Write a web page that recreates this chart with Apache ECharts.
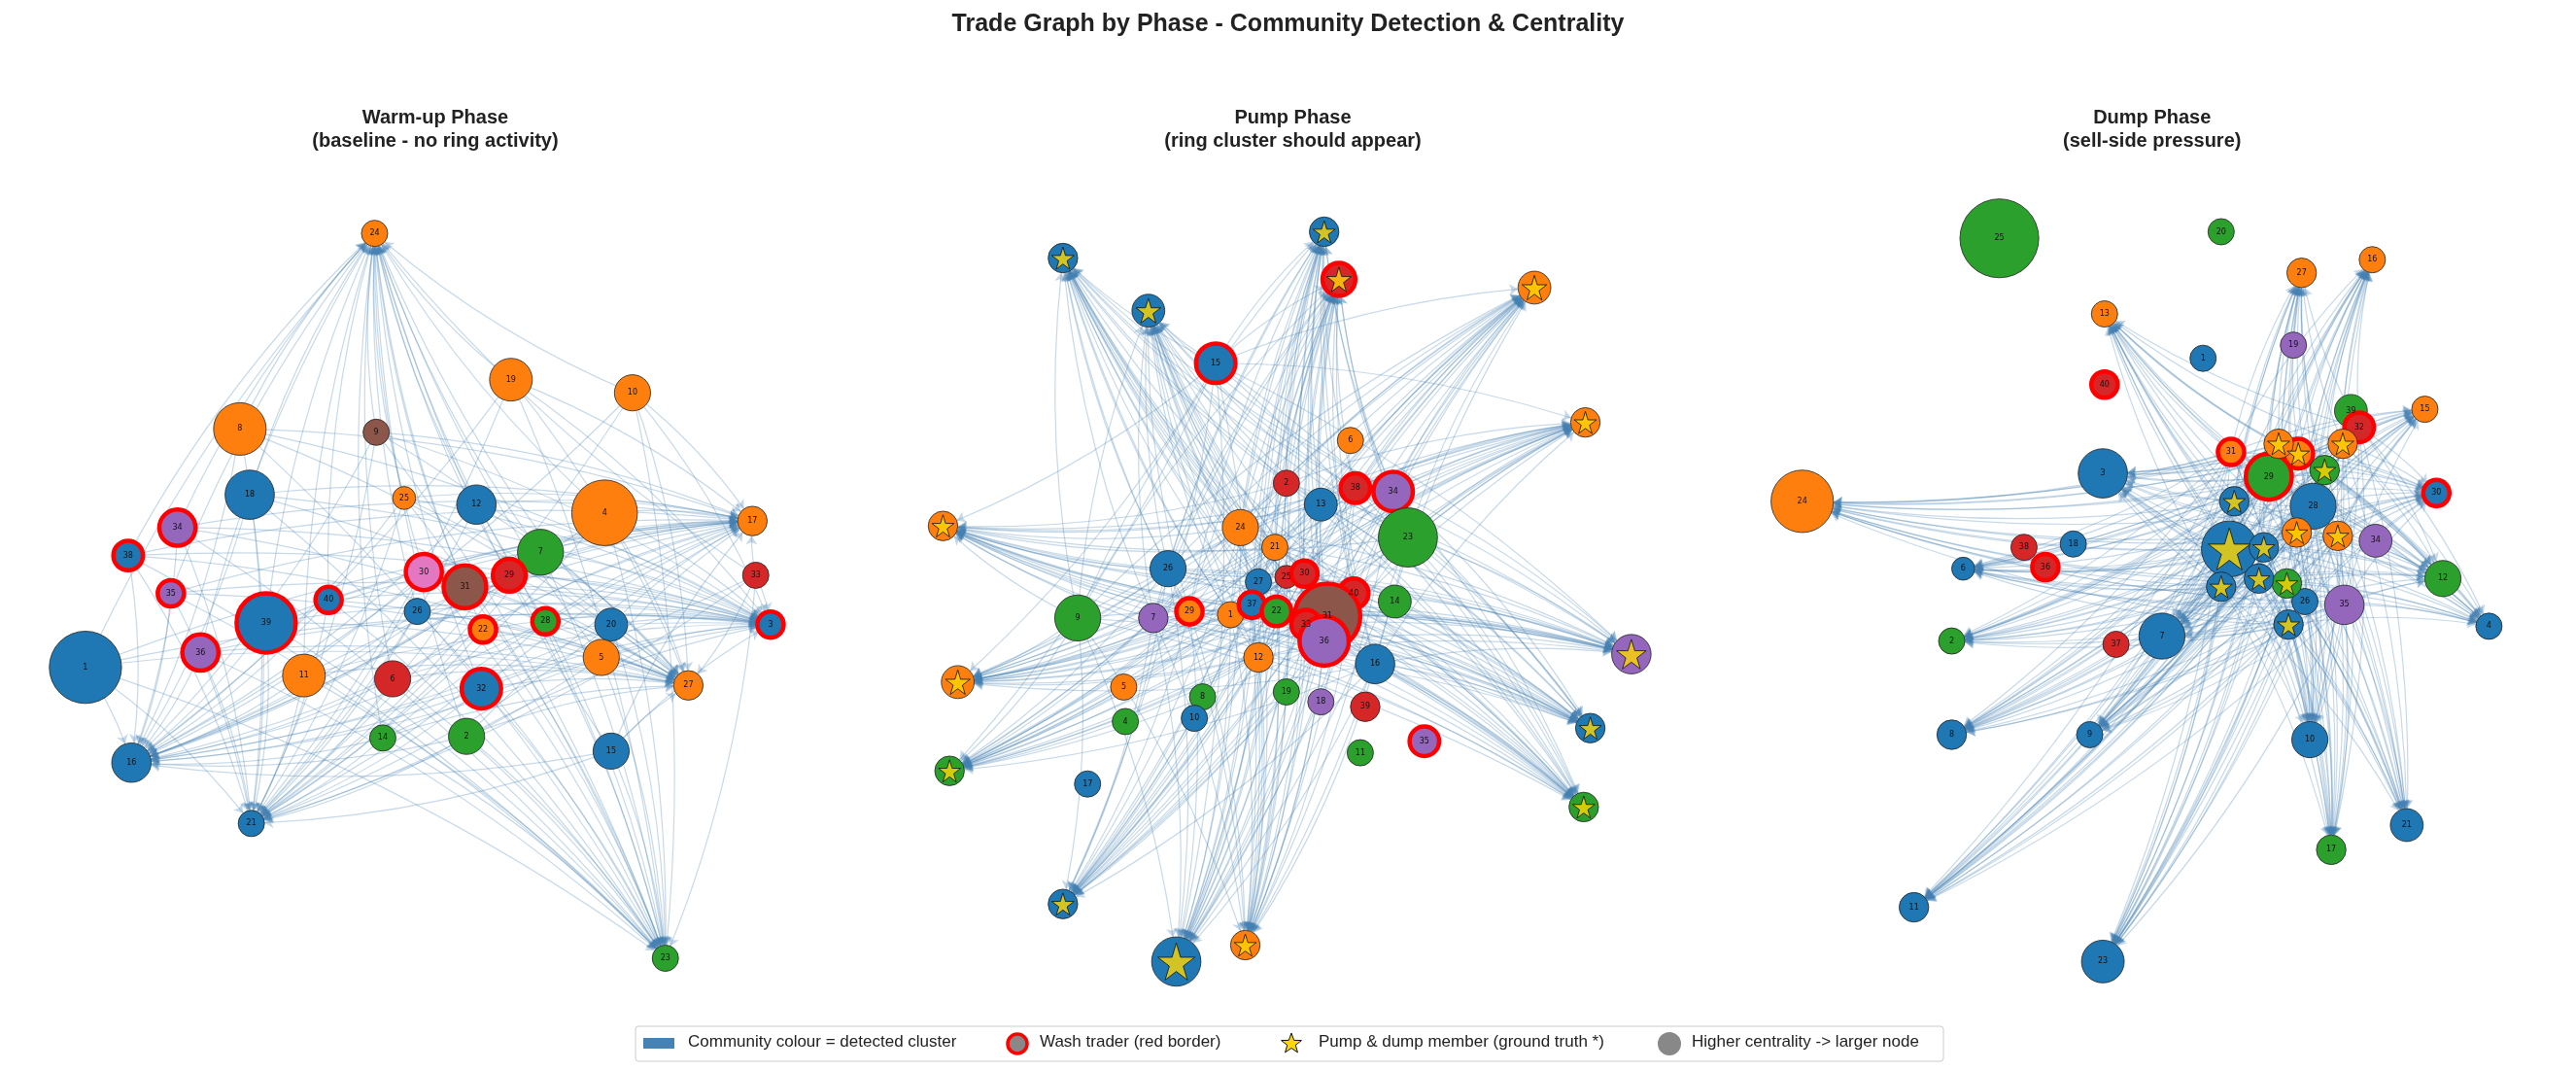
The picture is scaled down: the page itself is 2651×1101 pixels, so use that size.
<!DOCTYPE html>
<html><head><meta charset="utf-8">
<script src="https://cdn.jsdelivr.net/npm/echarts@6/dist/echarts.min.js"></script>
<style>html,body{margin:0;background:#fff}#c{width:2651px;height:1101px}</style>
</head><body><div id="c"></div>
<script>
// community palette
const palette = ['#1f77b4', '#ff7f0e', '#2ca02c', '#d62728', '#9467bd', '#8c564b', '#e377c2'];
// node tables: [label, x, y, centrality, community, wash, star]
const warmNodes = [
  ['1',52,406,22,0,0,0],['24',228,142,8,1,0,0],['8',146,261,16,1,0,0],['9',229,263,8,5,0,0],
  ['19',311,231,13,1,0,0],['10',385,239,11,1,0,0],['18',152,301,15,0,0,0],['25',246,303,7,1,0,0],
  ['12',290,307,12,0,0,0],['4',368,312,20,1,0,0],['7',329,336,14,2,0,0],['17',458,317,9,1,0,0],
  ['34',108,321,11,4,1,0],['38',78,338,9,0,1,0],['35',104,361,8,4,1,0],['39',162,379,18,0,1,0],
  ['30',258,348,11,6,1,0],['31',283,357,13,5,1,0],['29',310,350,10,3,1,0],['40',200,365,8,0,1,0],
  ['26',254,372,8,0,0,0],['20',372,380,10,0,0,0],['28',332,378,8,2,1,0],['22',294,383,8,1,1,0],
  ['33',460,350,8,3,0,0],['3',469,380,8,0,1,0],['36',122,397,11,4,1,0],['11',185,411,13,1,0,0],
  ['6',239,413,11,3,0,0],['32',293,419,12,0,1,0],['5',366,400,11,1,0,0],['27',419,417,9,1,0,0],
  ['14',233,449,8,2,0,0],['2',284,448,11,2,0,0],['15',372,457,11,0,0,0],['16',80,464,12,0,0,0],
  ['21',153,501,8,0,0,0],['23',405,583,8,2,0,0]
];
const pumpNodes = [
  ['a',647,157,9,0,0,1],['b',806,141,9,0,0,1],['c',815,170,10,3,1,1],['d',934,175,10,1,0,1],
  ['e',699,189,10,0,0,1],['15',740,221,12,0,1,0],['6',822,268,8,1,0,0],['f',965,257,9,1,0,1],
  ['2',783,294,8,3,0,0],['38',825,297,9,3,1,0],['34',848,299,12,4,1,0],['13',804,307,10,0,0,0],
  ['g',574,320,9,1,0,1],['24',755,321,11,1,0,0],['21',776,333,8,1,0,0],['23',857,327,18,2,0,0],
  ['26',711,346,11,0,0,0],['27',766,354,8,0,0,0],['25',783,351,7,3,0,0],['30',794,349,8,3,1,0],
  ['40',824,361,9,3,1,0],['9',656,376,14,2,0,0],['7',702,376,9,4,0,0],['29',724,372,8,1,1,0],
  ['1',749,374,8,1,0,0],['37',762,368,8,0,1,0],['22',777,372,9,2,1,0],['31',808,375,20,5,1,0],
  ['33',795,380,9,3,1,0],['36',806,390,15,4,1,0],['14',849,366,10,2,0,0],['h',993,398,12,4,0,1],
  ['i',583,415,10,1,0,1],['5',684,418,8,1,0,0],['12',766,400,9,1,0,0],['16',837,404,12,0,0,0],
  ['8',732,424,8,2,0,0],['19',783,421,8,2,0,0],['18',804,427,8,4,0,0],['39',831,430,9,3,0,0],
  ['4',685,439,8,2,0,0],['10',727,437,8,0,0,0],['35',867,451,9,4,1,0],['j',968,443,9,0,0,1],
  ['11',828,458,8,2,0,0],['17',662,477,8,0,0,0],['k',578,469,9,2,0,1],['l',964,491,9,2,0,1],
  ['m',647,550,9,0,0,1],['n',716,585,15,0,0,1],['o',758,575,9,1,0,1]
];
const dumpNodes = [
  ['25',1217,145,24,2,0,0],['20',1352,141,8,2,0,0],['27',1401,166,9,1,0,0],['16',1444,158,8,1,0,0],
  ['13',1281,191,8,1,0,0],['19',1396,210,8,4,0,0],['1',1341,218,8,0,0,0],['40',1281,234,8,3,1,0],
  ['15',1476,249,8,1,0,0],['39',1431,250,10,2,0,0],['32',1436,260,9,3,1,0],['31',1358,275,8,1,1,0],
  ['33',1399,276,9,1,1,1],['29',1381,290,14,2,1,0],['24',1097,305,19,1,0,0],['3',1280,288,15,0,0,0],
  ['28',1408,308,14,0,0,0],['30',1483,300,8,0,1,0],['38',1232,333,8,3,0,0],['18',1262,331,8,0,0,0],
  ['34',1446,329,10,4,0,0],['36',1245,345,8,3,1,0],['6',1195,346,7,0,0,0],['12',1487,352,11,2,0,0],
  ['p',1357,334,17,0,0,1],['35',1427,368,12,4,0,0],['26',1403,366,8,0,0,0],['7',1316,387,14,0,0,0],
  ['37',1288,392,8,3,0,0],['4',1515,381,8,0,0,0],['2',1188,390,8,2,0,0],['9',1272,447,8,0,0,0],
  ['8',1188,447,9,0,0,0],['10',1406,450,11,0,0,0],['21',1465,502,10,0,0,0],['17',1419,517,9,2,0,0],
  ['11',1165,552,9,0,0,0],['23',1280,585,13,0,0,0],
  ['q',1378,333,9,0,0,1],['r',1398,324,9,1,0,1],['s',1423,326,9,1,0,1],['t',1392,355,9,2,0,1],
  ['u',1375,352,9,0,0,1],['v',1352,357,9,0,0,1],['w',1393,380,9,0,0,1],['x',1415,286,9,2,0,1],
  ['y',1426,270,9,1,0,1],['z',1360,305,9,0,0,1],['za',1387,270,9,1,0,1]
];
// edges: every source sends to every sink
const warmSrc = ['1','8','18','39','34','38','35','36','40','31','30','29','22','28','12','7','4','19','10','20','32','6','11','2','5','15','14','26','25','9','33'];
const warmSink = ['24','23','21','16','17','3','27'];
const pumpSrc = ['31','36','22','27','40','30','33','24','26','9','34','13','15','23','21','1','37','25','29','7','2','38','12','16'];
const pumpSink = ['a','b','c','d','e','f','g','h','i','j','k','l','m','n','o'];
const dumpSrc = ['p','q','r','s','t','u','v','w','x','y','z','za','29','28','35','26','31','32','33'];
const dumpSink = ['27','21','17','23','11','8','10','4','2','30','12','15','16','13','3','7','9','24','6'];

const S = 2651 / 1568;
const starPath = 'path://M50,0 L61,35 L98,35 L68,57 L79,91 L50,70 L21,91 L32,57 L2,35 L39,35 Z';

function buildNodes(tbl) {
  return tbl.map(n => ({
    name: n[0], value: [n[1], n[2]], symbolSize: n[3] * 2 * S,
    itemStyle: { color: palette[n[4]], borderColor: n[5] ? '#ff0000' : '#222', borderWidth: n[5] ? 4.5 : 0.8 },
    label: { show: !n[6], formatter: n[0] }
  }));
}
function buildLinks(src, sink) {
  const out = [];
  src.forEach(s => sink.forEach(t => { if (s !== t) out.push({ source: s, target: t }); }));
  return out;
}
function graphSeries(tbl, src, sink) {
  return {
    type: 'graph', coordinateSystem: 'cartesian2d', layout: 'none',
    data: buildNodes(tbl), links: buildLinks(src, sink),
    edgeSymbol: ['none', 'arrow'], edgeSymbolSize: 9,
    lineStyle: { color: '#4682b4', opacity: 0.3, width: 1.2, curveness: 0.08 },
    label: { position: 'inside', fontSize: 8, color: '#111', fontFamily: 'DejaVu Sans' },
    emphasis: { disabled: true }, z: 2
  };
}
function starSeries(tbl) {
  return {
    type: 'scatter', symbol: starPath, z: 5,
    data: tbl.filter(n => n[6]).map(n => ({ value: [n[1], n[2]], symbolSize: Math.max(n[3], 9) * 1.5 * S })),
    itemStyle: { color: '#ffd700', borderColor: '#111', borderWidth: 1 }
  };
}
// legend star outline
const legendStar = [];
for (let i = 0; i < 10; i++) {
  const a = -Math.PI / 2 + i * Math.PI / 5, rr = i % 2 ? 4.5 : 11;
  legendStar.push([1329 + rr * Math.cos(a), 1074 + rr * Math.sin(a)]);
}

const chart = echarts.init(document.getElementById('c'));
const sub = (x, a, b) => ({ left: x * S, top: 62 * S, textAlign: 'center', text: a + '\n' + b,
  textStyle: { fontSize: 20, fontWeight: 'bold', color: '#222', lineHeight: 24, fontFamily: 'Liberation Sans' } });
const T = { fontFamily: 'Liberation Sans', fontSize: 17, fill: '#222' };
chart.setOption({
  backgroundColor: '#fff', animation: false,
  title: [
    { left: 'center', top: 8, text: 'Trade Graph by Phase - Community Detection & Centrality',
      textStyle: { fontSize: 25, fontWeight: 'bold', color: '#222', fontFamily: 'Liberation Sans' } },
    sub(262, 'Warm-up Phase', '(baseline - no ring activity)'),
    sub(784, 'Pump Phase', '(ring cluster should appear)'),
    sub(1307, 'Dump Phase', '(sell-side pressure)')
  ],
  grid: { left: 0, right: 0, top: 0, bottom: 0 },
  xAxis: { type: 'value', min: 0, max: 1568, show: false },
  yAxis: { type: 'value', min: 0, max: 651, inverse: true, show: false },
  series: [
    graphSeries(warmNodes, warmSrc, warmSink),
    graphSeries(pumpNodes, pumpSrc, pumpSink),
    graphSeries(dumpNodes, dumpSrc, dumpSink),
    starSeries(pumpNodes), starSeries(dumpNodes)
  ],
  graphic: [
    { type: 'rect', shape: { x: 654, y: 1056, width: 1346, height: 36, r: 3 }, style: { fill: '#fff', stroke: '#ccc' } },
    { type: 'rect', shape: { x: 662, y: 1068, width: 32, height: 11 }, style: { fill: '#4682b4' } },
    { type: 'text', x: 708, y: 1064, style: Object.assign({ text: 'Community colour = detected cluster' }, T) },
    { type: 'circle', shape: { cx: 1047, cy: 1074, r: 10 }, style: { fill: '#888', stroke: '#ff0000', lineWidth: 3.5 } },
    { type: 'text', x: 1070, y: 1064, style: Object.assign({ text: 'Wash trader (red border)' }, T) },
    { type: 'polygon', shape: { points: legendStar }, style: { fill: '#ffd700', stroke: '#111', lineWidth: 1 } },
    { type: 'text', x: 1357, y: 1064, style: Object.assign({ text: 'Pump & dump member (ground truth *)' }, T) },
    { type: 'circle', shape: { cx: 1718, cy: 1074, r: 12 }, style: { fill: '#888' } },
    { type: 'text', x: 1741, y: 1064, style: Object.assign({ text: 'Higher centrality -> larger node' }, T) }
  ]
});
</script></body></html>
